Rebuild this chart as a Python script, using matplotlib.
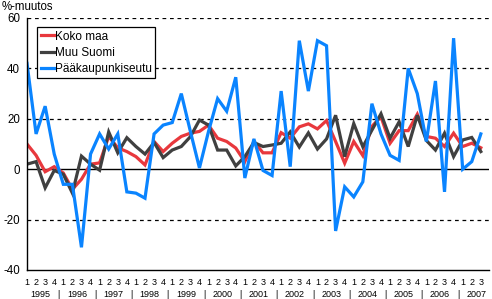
import matplotlib
matplotlib.use("Agg")
import matplotlib.pyplot as plt
import matplotlib.transforms as mtransforms
import numpy as np

plt.rcParams['font.family'] = ['Liberation Sans', 'DejaVu Sans']

years = [str(y) for y in range(1995, 2008)]
quarters = ['1', '2', '3', '4'] * 12 + ['1', '2', '3']

koko_maa = [10, 5.5, -1, 1,
            -1.5, -8, -4, 2,
            2.5, 13, 8.5, 7,
            5, 1.7, 11, 7,
            10.3, 13, 14.3, 15,
            17.5, 12.3, 11, 8.4,
            3, 11, 6.5, 6.5,
            14.5, 12.3, 16.8, 18,
            16, 19.3, 11, 2.4,
            11, 5.4, 17, 20.8,
            10.3, 15.3, 15.3, 21.8,
            13, 12.3, 9, 14.3,
            9, 10.3, 8.5]

muu_suomi = [2, 3, -7.4, -0.5,
             -2, -9.5, 5.2, 2,
             -0.4, 14.8, 6.5, 12.5,
             9, 6, 10.6, 4.6,
             7.6, 9, 12.9, 19.5,
             17.5, 7.6, 7.6, 1.3,
             5, 10.6, 9, 9.6,
             10.3, 14.8, 8.8, 14.4,
             8, 12, 21.4, 5,
             18.1, 8.9, 15.5, 22,
             12.3, 18.8, 9, 21.4,
             11.4, 7.6, 14.3, 5,
             11.6, 12.6, 7]

paakaupunkiseutu = [42, 14, 25, 6,
                    -6, -6, -31, 6,
                    14, 8, 14, -9,
                    -9.5, -11.5, 14, 17.5,
                    18.5, 30, 15, 0.5,
                    15, 28, 23, 36.5,
                    -3.5, 12, -0.5, -2.5,
                    31, 1, 51, 31,
                    51, 49, -24.5, -7,
                    -11, -5, 26, 14,
                    5.5, 3.5, 40, 30,
                    11, 35, -9, 52,
                    0, 3, 14]

series_names = ['Koko maa', 'Muu Suomi', 'Pääkaupunkiseutu']
colors = ['#e8383d', '#404040', '#0a84ff']

W, H = 492, 299
fig = plt.figure(figsize=(W / 100, H / 100), dpi=100)
ax = fig.add_axes([27 / W, 29 / H, (489 - 27) / W, (270 - 18) / H])

x = np.arange(len(quarters))
for vals, name, c in zip([koko_maa, muu_suomi, paakaupunkiseutu], series_names, colors):
    ax.plot(x, vals, color=c, lw=2.3, label=name, solid_joinstyle='miter')

ax.set_xlim(0, len(quarters) - 1 + 0.9)
ax.set_ylim(-40, 60)

for v in [-20, 20, 40, 60]:
    ax.axhline(v, color='black', lw=0.9, ls=(0, (3, 3)), zorder=0)
ax.axhline(0, color='black', lw=1.0, zorder=1)

for s in ['top', 'right']:
    ax.spines[s].set_visible(False)
for s in ['left', 'bottom']:
    ax.spines[s].set_linewidth(1.0)

ax.set_yticks([-40, -20, 0, 20, 40, 60])
ax.set_yticklabels(['-40', '-20', '0', '20', '40', '60'])
ax.tick_params(axis='y', length=0, pad=5, labelsize=8.3)
ax.set_xticks(x)
ax.set_xticklabels(quarters)
ax.tick_params(axis='x', length=0, pad=6, labelsize=6.5)

trans = mtransforms.blended_transform_factory(ax.transData, ax.transAxes)
ybase = -0.097
for i, yr in enumerate(years):
    ax.text(i * 4 + 1.5, ybase, yr, transform=trans, ha='center', va='center', fontsize=6.5)
    if i > 0:
        ax.text(i * 4 - 0.5, ybase, '|', transform=trans, ha='center', va='center', fontsize=6.5)

fig.text(2 / W, 1 - 0.5 / H, '%-muutos', ha='left', va='top', fontsize=8.3)

leg = ax.legend(loc='upper left', bbox_to_anchor=((37 - 27) / 462, (270 - 27) / 252),
                frameon=True, fancybox=False, edgecolor='black', framealpha=1,
                fontsize=8.5, handlelength=1.1, handletextpad=0.1, labelspacing=0.35,
                borderpad=0.3, borderaxespad=0)
leg.get_frame().set_linewidth(0.9)

fig.savefig('out.png', dpi=100)
